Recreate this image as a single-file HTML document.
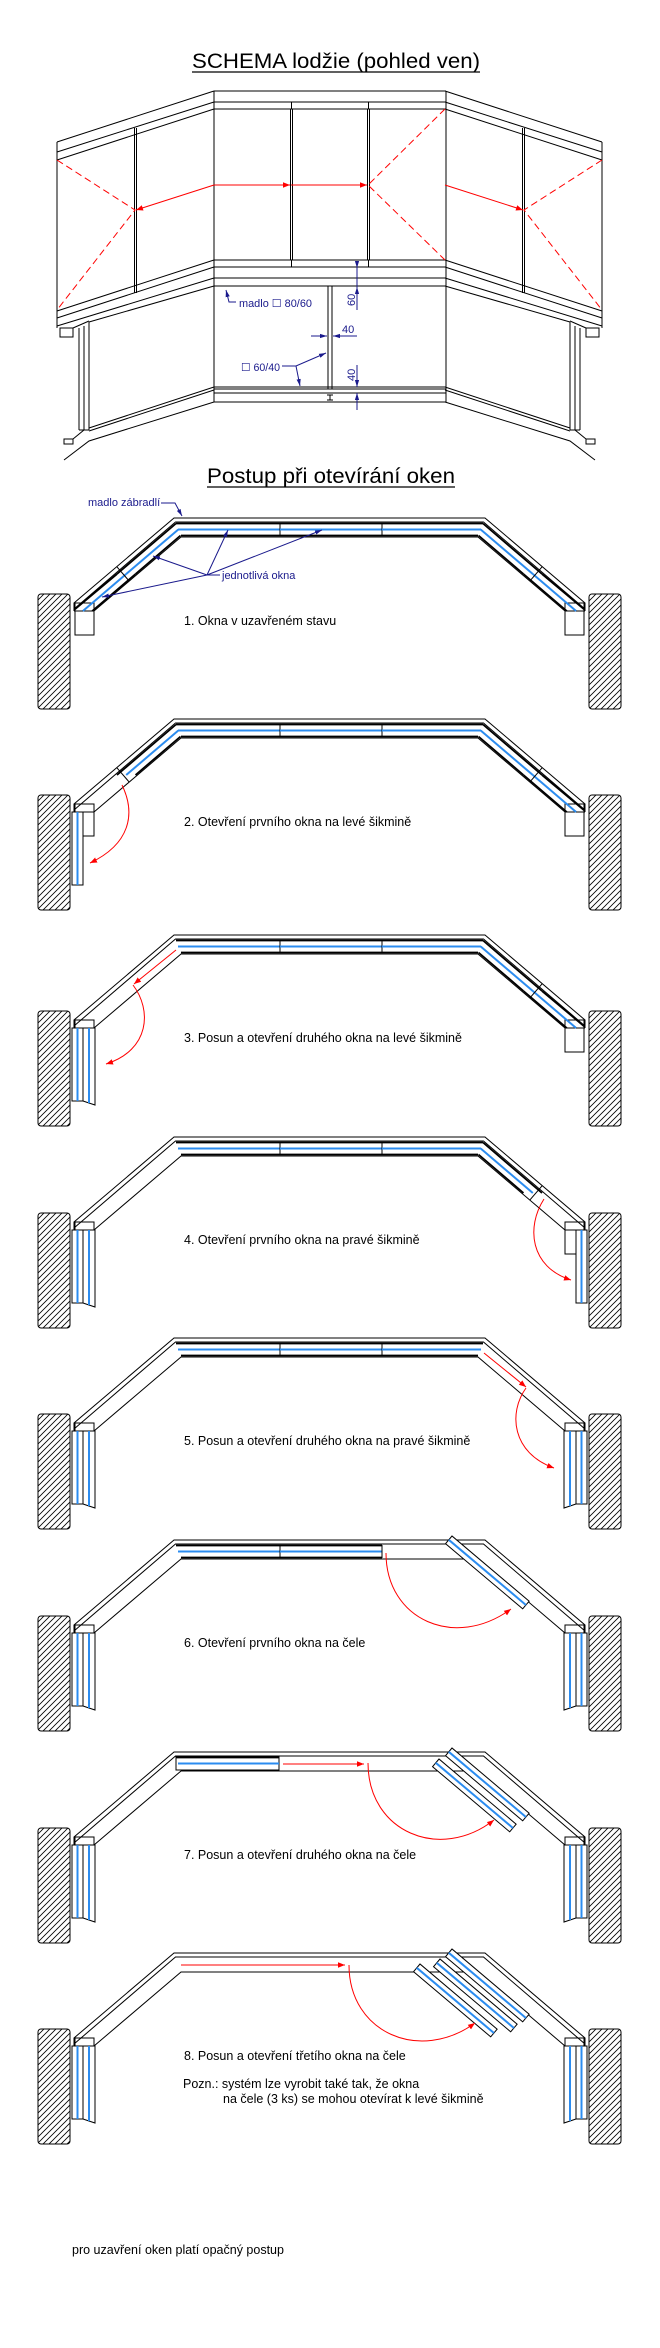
<!DOCTYPE html>
<html><head><meta charset="utf-8"><style>
html,body{margin:0;padding:0;background:#fff;width:660px;height:2348px;overflow:hidden}
svg{display:block}
text{font-family:"Liberation Sans",sans-serif}
</style></head><body>
<svg width="660" height="2348" viewBox="0 0 660 2348" xmlns="http://www.w3.org/2000/svg">
<defs>
<pattern id="hatch" patternUnits="userSpaceOnUse" width="6" height="6"><path d="M-1,7 L7,-1 M-1,1 L1,-1 M5,7 L7,5" stroke="#000" stroke-width="0.8"/></pattern>
<marker id="ar" viewBox="0 0 10 10" refX="10" refY="5" markerWidth="7" markerHeight="7" orient="auto"><path d="M0,1 L10,5 L0,9 z" fill="#f00"/></marker>
<marker id="an" viewBox="0 0 10 10" refX="10" refY="5" markerWidth="7" markerHeight="7" orient="auto"><path d="M0,2 L10,5 L0,8 z" fill="#1a1a8c"/></marker>

<g id="wing">
<g stroke="#000" stroke-width="1" fill="none">
<path d="M214,91 L57,142 M214,102 L57,152 M214,109 L57,160"/>
<path d="M214,260 L57,311 M214,267 L57,318 M214,278 L57,326 M214,286 L89,322"/>
<path d="M57,142 V328 M134.5,128 V293 M136.5,128 V293"/>
<rect x="60" y="328" width="13" height="9"/>
<path d="M73,328 L89,321 M79,328 V430 M84,326 V430 M89,322 V430"/>
<path d="M214,387 L89,428 M214,390 L89,431 M214,402 L89,441 L64,460"/>
<rect x="64" y="439" width="9" height="5"/>
<path d="M73,439 L84,430 M79,430 H89"/>
</g>
<path d="M57,160 L135,210 L57,310" stroke="#f00" fill="none" stroke-dasharray="7,4"/>
<path d="M214,185 L136,210" stroke="#f00" fill="none" marker-end="url(#ar)"/>
</g>

<g id="base">
<rect x="38" y="76" width="32" height="115" rx="3" fill="url(#hatch)" stroke="#000"/>
<rect x="589" y="76" width="32" height="115" rx="3" fill="url(#hatch)" stroke="#000"/>
<g stroke="#000" stroke-width="1" fill="none">
<rect x="75" y="85" width="19" height="32"/>
<rect x="565" y="85" width="19" height="32"/>
<path d="M74,93 L74,85 L174,0 L485,0 L585,85 L585,93"/>
<path d="M74,91 L175.5,4 L483.5,4 L585,91"/>
<path d="M94,93 L181,19 L478,19 L565,93"/>
<path d="M74,93 H94 M565,93 H585"/>
</g>
</g>

<g id="wL2" fill="none">
<path d="M176,5.5 L117,56 M180.5,17.5 L135.5,56" stroke="#000" stroke-width="1.8"/>
<path d="M178.3,11.5 L126.2,56" stroke="#2b8cf0" stroke-width="2"/>
<path d="M116.9,48.8 L129.3,63.2" stroke="#000"/>
</g>
<g id="wL1" fill="none">
<path d="M117,56 L74,92 M135.5,56 L92.2,93" stroke="#000" stroke-width="1.8"/>
<path d="M126.2,56 L82.9,93" stroke="#2b8cf0" stroke-width="2"/>
</g>
<g id="wC1" fill="none">
<path d="M176,5.5 H280 M181,17.5 H280" stroke="#000" stroke-width="1.8"/>
<path d="M178,11.5 H280" stroke="#2b8cf0" stroke-width="2"/>
<path d="M280,5 V18" stroke="#000"/>
</g>
<g id="wC2" fill="none">
<path d="M280,5.5 H382 M280,17.5 H382" stroke="#000" stroke-width="1.8"/>
<path d="M280,11.5 H382" stroke="#2b8cf0" stroke-width="2"/>
<path d="M382,5 V18" stroke="#000"/>
</g>
<g id="wC3" fill="none">
<path d="M382,5.5 H483 M382,17.5 H478" stroke="#000" stroke-width="1.8"/>
<path d="M382,11.5 H481" stroke="#2b8cf0" stroke-width="2"/>
</g>
<g id="p1">
<rect x="72" y="93" width="11" height="73" fill="#fff" stroke="#000"/>
<path d="M77.5,93 V166" stroke="#2b8cf0" stroke-width="2"/>
</g>
<g id="p2">
<path d="M83,93 H95 V170 L83,166 Z" fill="#fff" stroke="#000"/>
<path d="M89,93 V168" stroke="#2b8cf0" stroke-width="2"/>
</g>
<g id="rp">
<rect x="0" y="0" width="101" height="10" fill="#fff" stroke="#000"/>
<path d="M0,5 H101" stroke="#2b8cf0" stroke-width="2"/>
</g>
</defs>

<!-- TOP SCHEMA -->
<text x="192" y="68" font-size="21" textLength="288" lengthAdjust="spacingAndGlyphs">SCHEMA lodžie (pohled ven)</text>
<path d="M192,72 H480" stroke="#000" stroke-width="1.3"/>
<g stroke="#000" stroke-width="1" fill="none">
<path d="M214,91 H446 M214,102 H446 M214,109 H446 M214,260 H446 M214,267 H446 M214,278 H446 M214,286 H446"/>
<path d="M214,387 H446 M214,389 H446 M214,393 H446 M214,402 H446"/>
<path d="M214,91 V402 M446,91 V402"/>
<path d="M290.5,109 V260 M292.5,109 V260 M291.5,102 V109 M291.5,260 V267"/>
<path d="M367.5,109 V260 M369.5,109 V260 M368.5,102 V109 M368.5,260 V267"/>
<path d="M328,286 V389 M332,286 V389 M327,395 H333 M330,395 V400 M327,400 H333"/>
</g>
<use href="#wing"/>
<use href="#wing" transform="matrix(-1,0,0,1,659,0)"/>
<path d="M214,185 L290,185" stroke="#f00" marker-end="url(#ar)"/>
<path d="M291,185 L367,185" stroke="#f00" marker-end="url(#ar)"/>
<path d="M445,109 L368,185 L445,260" stroke="#f00" fill="none" stroke-dasharray="7,4"/>
<g fill="#1a1a8c">
<text x="239" y="307" font-size="11" textLength="73" lengthAdjust="spacingAndGlyphs">madlo ☐ 80/60</text>
<text x="241" y="371" font-size="11" textLength="39" lengthAdjust="spacingAndGlyphs">☐ 60/40</text>
<text x="342" y="333" font-size="11">40</text>
<text transform="translate(355,306) rotate(-90)" font-size="11">60</text>
<text transform="translate(355,381) rotate(-90)" font-size="11">40</text>
</g>
<g stroke="#1a1a8c" fill="none" stroke-width="1">
<path d="M236,302 H229 L226,290" marker-end="url(#an)"/>
<path d="M357,262 V268" marker-end="url(#an)"/>
<path d="M357,310 V287" marker-end="url(#an)"/>
<path d="M357,268 V287"/>
<path d="M311,336 H327" marker-end="url(#an)"/>
<path d="M357,336 H333" marker-end="url(#an)"/>
<path d="M282,366 H296 L326,353" marker-end="url(#an)"/>
<path d="M296,366 L300,386" marker-end="url(#an)"/>
<path d="M357,365 V387" marker-end="url(#an)"/>
<path d="M357,410 V393" marker-end="url(#an)"/>
</g>

<!-- SECOND TITLE -->
<text x="207" y="483" font-size="21" textLength="248" lengthAdjust="spacingAndGlyphs">Postup při otevírání oken</text>
<path d="M207,487 H455" stroke="#000" stroke-width="1.3"/>

<!-- D1 -->
<g transform="translate(0,518)">
<use href="#base"/>
<use href="#wL1"/><use href="#wL2"/>
<use href="#wC1"/><use href="#wC2"/><use href="#wC3"/>
<use href="#wL1" transform="matrix(-1,0,0,1,659,0)"/><use href="#wL2" transform="matrix(-1,0,0,1,659,0)"/>
<text x="184" y="107" font-size="12.5">1. Okna v uzavřeném stavu</text>
<g fill="#1a1a8c"><text x="88" y="-12" font-size="11">madlo zábradlí</text><text x="222" y="61" font-size="11">jednotlivá okna</text></g>
<g stroke="#1a1a8c" fill="none">
<path d="M161,-15 H175 L182,-2" marker-end="url(#an)"/>
<path d="M207,57 L228,12" marker-end="url(#an)"/>
<path d="M207,57 L322,12" marker-end="url(#an)"/>
<path d="M207,57 L153,38" marker-end="url(#an)"/>
<path d="M207,57 L102,79" marker-end="url(#an)"/>
<path d="M207,57 H220"/>
</g>
</g>

<!-- D2 -->
<g transform="translate(0,719)">
<use href="#base"/>
<use href="#wL2"/>
<use href="#wC1"/><use href="#wC2"/><use href="#wC3"/>
<use href="#wL1" transform="matrix(-1,0,0,1,659,0)"/><use href="#wL2" transform="matrix(-1,0,0,1,659,0)"/>
<use href="#p1"/>
<path d="M122,66 C136,95 130,125 90,144" stroke="#f00" fill="none" marker-end="url(#ar)"/>
<text x="184" y="107" font-size="12.5">2. Otevření prvního okna na levé šikmině</text>
</g>

<!-- D3 -->
<g transform="translate(0,935)">
<use href="#base"/>
<use href="#wC1"/><use href="#wC2"/><use href="#wC3"/>
<use href="#wL1" transform="matrix(-1,0,0,1,659,0)"/><use href="#wL2" transform="matrix(-1,0,0,1,659,0)"/>
<use href="#p1"/><use href="#p2"/>
<path d="M176,15 L134,49" stroke="#f00" fill="none" marker-end="url(#ar)"/>
<path d="M133,50 C152,75 150,115 106,129" stroke="#f00" fill="none" marker-end="url(#ar)"/>
<text x="184" y="107" font-size="12.5">3. Posun a otevření druhého okna na levé šikmině</text>
</g>

<!-- D4 -->
<g transform="translate(0,1137)">
<use href="#base"/>
<use href="#wC1"/><use href="#wC2"/><use href="#wC3"/>
<use href="#wL2" transform="matrix(-1,0,0,1,659,0)"/>
<use href="#p1"/><use href="#p2"/>
<use href="#p1" transform="matrix(-1,0,0,1,659,0)"/>
<path d="M544,62 C526,90 530,130 571,143" stroke="#f00" fill="none" marker-end="url(#ar)"/>
<text x="184" y="107" font-size="12.5">4. Otevření prvního okna na pravé šikmině</text>
</g>

<!-- D5 -->
<g transform="translate(0,1338)">
<use href="#base"/>
<use href="#wC1"/><use href="#wC2"/><use href="#wC3"/>
<use href="#p1"/><use href="#p2"/>
<use href="#p1" transform="matrix(-1,0,0,1,659,0)"/><use href="#p2" transform="matrix(-1,0,0,1,659,0)"/>
<path d="M484,15 L526,49" stroke="#f00" fill="none" marker-end="url(#ar)"/>
<path d="M526,50 C508,75 512,115 554,130" stroke="#f00" fill="none" marker-end="url(#ar)"/>
<text x="184" y="107" font-size="12.5">5. Posun a otevření druhého okna na pravé šikmině</text>
</g>

<!-- D6 -->
<g transform="translate(0,1540)">
<use href="#base"/>
<use href="#wC1"/><use href="#wC2"/>
<use href="#p1"/><use href="#p2"/>
<use href="#p1" transform="matrix(-1,0,0,1,659,0)"/><use href="#p2" transform="matrix(-1,0,0,1,659,0)"/>
<use href="#rp" transform="translate(452,-4) rotate(40.2)"/>
<path d="M386,13 C386,80 455,110 511,69" stroke="#f00" fill="none" marker-end="url(#ar)"/>
<text x="184" y="107" font-size="12.5">6. Otevření prvního okna na čele</text>
</g>

<!-- D7 -->
<g transform="translate(0,1752)">
<use href="#base"/>
<rect x="176" y="5" width="103" height="13" fill="none" stroke="#000"/>
<path d="M176,5.5 H279" stroke="#000" stroke-width="1.8"/>
<path d="M178,11.5 H279" stroke="#2b8cf0" stroke-width="2"/>
<use href="#p1"/><use href="#p2"/>
<use href="#p1" transform="matrix(-1,0,0,1,659,0)"/><use href="#p2" transform="matrix(-1,0,0,1,659,0)"/>
<use href="#rp" transform="translate(452,-4) rotate(40.2)"/>
<use href="#rp" transform="translate(439,7) rotate(40.2)"/>
<path d="M283,12 L364,12" stroke="#f00" fill="none" marker-end="url(#ar)"/>
<path d="M368,11 C368,80 440,110 494,68" stroke="#f00" fill="none" marker-end="url(#ar)"/>
<text x="184" y="107" font-size="12.5">7. Posun a otevření druhého okna na čele</text>
</g>

<!-- D8 -->
<g transform="translate(0,1953)">
<use href="#base"/>
<use href="#p1"/><use href="#p2"/>
<use href="#p1" transform="matrix(-1,0,0,1,659,0)"/><use href="#p2" transform="matrix(-1,0,0,1,659,0)"/>
<use href="#rp" transform="translate(452,-4) rotate(40.2)"/>
<use href="#rp" transform="translate(440,6) rotate(40.2)"/>
<use href="#rp" transform="translate(420,11) rotate(40.2)"/>
<path d="M181,12 L345,12" stroke="#f00" fill="none" marker-end="url(#ar)"/>
<path d="M349,12 C349,80 420,110 475,70" stroke="#f00" fill="none" marker-end="url(#ar)"/>
<text x="184" y="107" font-size="12.5">8. Posun a otevření třetího okna na čele</text>
<text x="183" y="135" font-size="12.5">Pozn.: systém lze vyrobit také tak, že okna</text>
<text x="223" y="150" font-size="12.5">na čele (3 ks) se mohou otevírat k levé šikmině</text>
</g>

<text x="72" y="2254" font-size="12.5">pro uzavření oken platí opačný postup</text>
</svg>
</body></html>
